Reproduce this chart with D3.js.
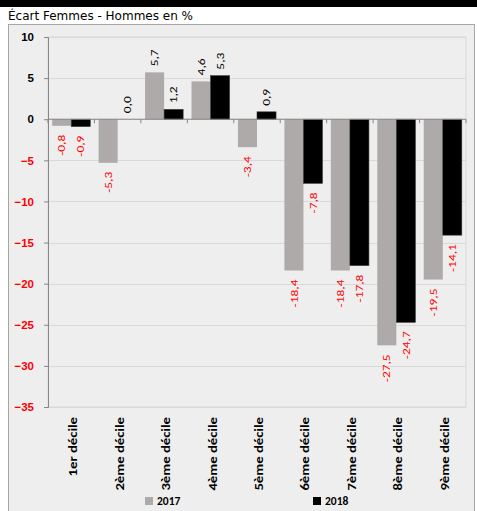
<!DOCTYPE html>
<html>
<head>
<meta charset="utf-8">
<script src="https://cdn.jsdelivr.net/npm/d3@7"></script>
<style>
  body { margin: 0; background: #fff; }
  svg { display: block; font-family: Calibri, Carlito, "Liberation Sans", "DejaVu Sans", sans-serif; }
</style>
</head>
<body>
<div id="chart"></div>
<script>
'use strict';

// data
let deciles = ["1er décile", "2ème décile", "3ème décile", "4ème décile", "5ème décile",
               "6ème décile", "7ème décile", "8ème décile", "9ème décile"];
let years = ["2017", "2018"];
let values2017 = [-0.8, -5.3, 5.7, 4.6, -3.4, -18.4, -18.4, -27.5, -19.5];
let values2018 = [-0.9, 0.0, 1.2, 5.3, 0.9, -7.8, -17.8, -24.7, -14.1];
let yTicks = [10, 5, 0, -5, -10, -15, -20, -25, -30, -35];

let width = 477, height = 511;
let plot = {left: 48, right: 466, top: 37, bottom: 407};
let colors = {"2017": "#aeaaaa", "2018": "#000000"};

let svg = d3.select("#chart").append("svg")
    .attr("width", width)
    .attr("height", height);

// black band at the very top
svg.append("rect").attr("x", 0).attr("y", 0).attr("width", width).attr("height", 7).attr("fill", "#000");

svg.append("text")
    .attr("x", 8).attr("y", 20)
    .style("font-size", "12px")
    .style("font-family", "'DejaVu Sans', sans-serif")
    .attr("fill", "#000")
    .text("Écart Femmes - Hommes en %");

// chart box
svg.append("rect")
    .attr("x", 8.5).attr("y", 24.5)
    .attr("width", 466).attr("height", 500)
    .attr("fill", "#eeeeee")
    .attr("stroke", "#a6a6a6");

let x = d3.scaleBand().domain(deciles).range([plot.left, plot.right]).paddingInner(0.18).paddingOuter(0.09);
let x1 = d3.scaleBand().domain(years).range([0, x.bandwidth()]);
let y = d3.scaleLinear().domain([-35, 10]).range([plot.bottom, plot.top]);

// plot area border
svg.append("rect")
    .attr("x", plot.left).attr("y", plot.top)
    .attr("width", plot.right - plot.left).attr("height", plot.bottom - plot.top)
    .attr("fill", "none").attr("stroke", "#d9d9d9");

// gridlines
svg.append("g")
    .selectAll("line")
    .data(yTicks)
    .enter().append("line")
        .attr("x1", plot.left).attr("x2", plot.right)
        .attr("y1", d => Math.round(y(d)) + 0.5).attr("y2", d => Math.round(y(d)) + 0.5)
        .attr("stroke", "#d9d9d9").attr("stroke-width", 1.2);

// y axis
let yAxis = svg.append("g")
    .attr("transform", "translate(" + plot.left + ",0)")
    .call(d3.axisLeft(y).tickValues(yTicks).tickSize(4).tickPadding(10).tickFormat(d3.format("d")));
yAxis.select(".domain").attr("stroke", "#868686");
yAxis.selectAll(".tick line").attr("stroke", "#868686");
yAxis.selectAll(".tick text")
    .style("font-size", "11.5px")
    .style("font-weight", "bold")
    .attr("fill", d => d < 0 ? "#ff0000" : "#000");

// bars
let series = years.map(function(yr, i) {
    let vals = i === 0 ? values2017 : values2018;
    return deciles.map(function(dc, j) { return {decile: dc, year: yr, value: vals[j]}; });
});
let flat = series.flat();

svg.append("g")
    .selectAll("rect")
    .data(flat)
    .enter().append("rect")
        .attr("x", d => x(d.decile) + x1(d.year))
        .attr("width", x1.bandwidth())
        .attr("y", d => y(Math.max(0, d.value)))
        .attr("height", d => Math.abs(y(d.value) - y(0)))
        .attr("fill", d => colors[d.year])
        .attr("stroke", d => d.year === "2018" ? "#3a3a3a" : "none")
        .attr("stroke-width", 0.6);

// x axis (at zero)
let xAxis = svg.append("g").attr("transform", "translate(0," + y(0) + ")");
xAxis.append("line")
    .attr("x1", plot.left).attr("x2", plot.right)
    .attr("stroke", "#868686");
xAxis.selectAll(".xtick")
    .data(deciles.concat([null]))
    .enter().append("line")
        .attr("class", "xtick")
        .attr("x1", d => d ? x(d) - x.paddingOuter() * x.step() : plot.right)
        .attr("x2", d => d ? x(d) - x.paddingOuter() * x.step() : plot.right)
        .attr("y1", 0).attr("y2", 4)
        .attr("stroke", "#868686");

// value labels (stretched along the text like the original)
svg.append("g")
    .selectAll("text")
    .data(flat)
    .enter().append("text")
        .attr("transform", function(d) {
            let cx = x(d.decile) + x1(d.year) + x1.bandwidth() / 2;
            let cy = d.value >= 0 ? y(d.value) - 6 : y(d.value) + 9;
            return "translate(" + cx + "," + cy + ")rotate(-90)scale(1.28,1)";
        })
        .attr("dy", "0.35em")
        .attr("text-anchor", d => d.value >= 0 ? "start" : "end")
        .style("font-size", "10.5px")
        .attr("fill", d => d.value < 0 ? "#ff0000" : "#000")
        .text(d => d3.format(".1f")(d.value).replace(".", ",").replace("−", "-"));

// category labels
svg.append("g")
    .selectAll("text")
    .data(deciles)
    .enter().append("text")
        .attr("transform", d => "translate(" + (x(d) + x.bandwidth() / 2 + 2) + "," + 417 + ")rotate(-90)scale(1.28,1)")
        .attr("dy", "0.35em")
        .attr("text-anchor", "end")
        .style("font-size", "11.5px")
        .style("font-weight", "bold")
        .text(d => d);

// legend
let legendX = [145, 313];
let legend = svg.append("g")
    .selectAll("g")
    .data(years)
    .enter().append("g")
        .attr("transform", (d, i) => "translate(" + legendX[i] + ",497)");
legend.append("rect")
    .attr("width", 8).attr("height", 8)
    .attr("fill", d => colors[d]);
legend.append("text")
    .attr("x", 12).attr("y", 4)
    .attr("dy", "0.35em")
    .style("font-size", "11.5px")
    .style("font-weight", "bold")
    .text(d => d);
</script>
</body>
</html>
